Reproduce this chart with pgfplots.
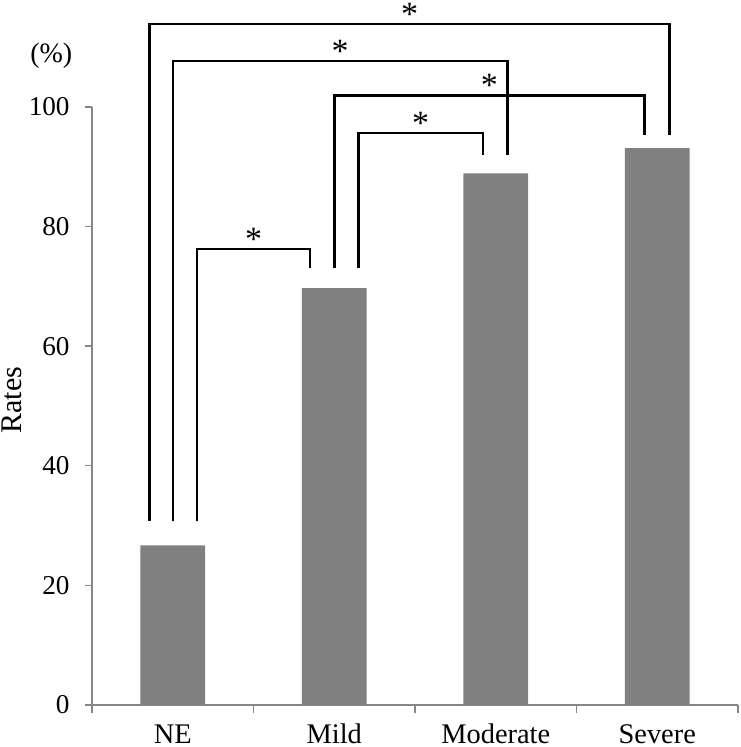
\documentclass[border=0pt]{standalone}
\usepackage{fontspec}
\setmainfont{Liberation Serif}
\usepackage{pgfplots}
\pgfplotsset{compat=1.18}
\definecolor{barGray}{HTML}{808080}
\definecolor{axGray}{HTML}{868686}
\begin{document}
\fontsize{13.5}{16}\selectfont
\begin{tikzpicture}
\begin{axis}[
  scale only axis, width=323pt, height=299pt,
  xmin=-0.5, xmax=3.5, ymin=0, ymax=100,
  axis x line=bottom, axis y line=left,
  axis line style={axGray, line width=0.7pt, -},
  xtick={0,1,2,3}, xticklabels={NE,Mild,Moderate,Severe},
  major x tick style={draw=none},
  minor xtick={-0.5,0.5,1.5,2.5,3.5},
  ytick={0,20,...,100},
  tick align=outside, tick style={axGray, line width=0.7pt},
  major tick length=3.5pt, minor tick length=4pt,
  xticklabel style={anchor=north, inner sep=0pt, yshift=-6.5pt,
    font=\fontsize{14.2}{16}\selectfont, text height=0.68em, text depth=0pt},
  yticklabel style={anchor=east, inner sep=0pt, xshift=-7.5pt,
    font=\fontsize{13.6}{16}\selectfont},
  ylabel={Rates},
  ylabel style={at={(rel axis cs:-0.124,0.51)}, anchor=center, inner sep=0pt,
    font=\fontsize{15}{17}\selectfont},
  clip=false,
  /pgf/number format/assume math mode=true,
]
% bars
\addplot[ybar, fill=barGray, draw=none, bar width=0.40] coordinates {
  (0,26.7) (1,69.7) (2,88.9) (3,93.1)
};
% significance brackets
\addplot[black, line width=1.15pt, mark=none] coordinates {(-0.144,30.7) (-0.144,113.9) (3.075,113.9) (3.075,95.3)};
\addplot[black, line width=1.15pt, mark=none] coordinates {(0.000,30.7) (0.000,107.7) (2.072,107.7) (2.072,92.0)};
\addplot[black, line width=1.15pt, mark=none] coordinates {(1.001,73.0) (1.001,101.9) (2.921,101.9) (2.921,95.3)};
\addplot[black, line width=1.15pt, mark=none] coordinates {(1.150,73.0) (1.150,95.6) (1.921,95.6) (1.921,92.0)};
\addplot[black, line width=1.15pt, mark=none] coordinates {(0.149,30.7) (0.149,76.2) (0.851,76.2) (0.851,73.0)};
\node[anchor=base, inner sep=0pt, font=\fontsize{17}{17}\selectfont] at (axis cs:1.466,113.7) {*};
\node[anchor=base, inner sep=0pt, font=\fontsize{17}{17}\selectfont] at (axis cs:1.036,107.5) {*};
\node[anchor=base, inner sep=0pt, font=\fontsize{17}{17}\selectfont] at (axis cs:1.961,101.7) {*};
\node[anchor=base, inner sep=0pt, font=\fontsize{17}{17}\selectfont] at (axis cs:1.535,95.4) {*};
\node[anchor=base, inner sep=0pt, font=\fontsize{17}{17}\selectfont] at (axis cs:0.500,76.0) {*};
\node[font=\fontsize{14}{16}\selectfont, inner sep=0pt] at (rel axis cs:-0.063,1.086) {(\%)};
\path (rel axis cs:-0.1424,-0.0702) rectangle (rel axis cs:1.0031,1.1789);
\end{axis}
\end{tikzpicture}
\end{document}
